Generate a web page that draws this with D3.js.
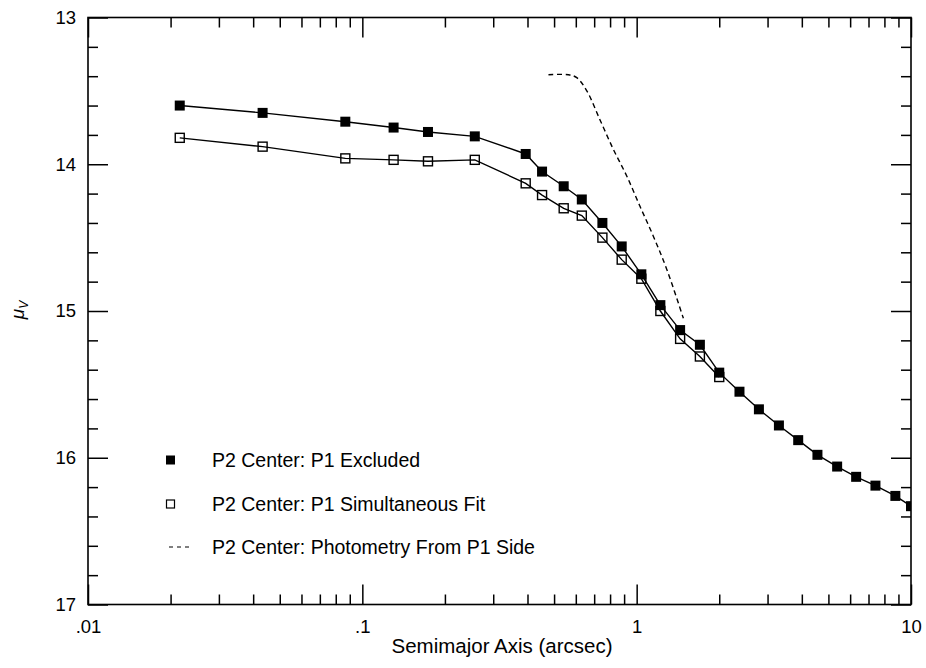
<!DOCTYPE html>
<html>
<head>
<meta charset="utf-8">
<script src="https://cdn.jsdelivr.net/npm/d3@7"></script>
<style>
  html, body { margin: 0; padding: 0; background: #fff; }
  svg { display: block; }
  text { font-family: "Liberation Sans", Arial, Helvetica, sans-serif; fill: #000; }
</style>
</head>
<body>
<svg id="chart" width="926" height="668"></svg>
<script>
// ---- data ----
const radius = [0.0216, 0.0433, 0.0867, 0.130, 0.1735, 0.257, 0.394, 0.452, 0.542, 0.631, 0.750, 0.882, 1.04, 1.22, 1.44, 1.70, 2.00, 2.37, 2.79, 3.30, 3.88, 4.56, 5.38, 6.31, 7.42, 8.77, 10.0];
const muExcluded = [13.60, 13.65, 13.71, 13.75, 13.78, 13.81, 13.93, 14.05, 14.15, 14.24, 14.40, 14.56, 14.75, 14.96, 15.13, 15.23, 15.42, 15.55, 15.67, 15.78, 15.88, 15.98, 16.06, 16.13, 16.19, 16.26, 16.33];
const radiusSim = [0.0216, 0.0433, 0.0867, 0.130, 0.1735, 0.257, 0.394, 0.452, 0.542, 0.631, 0.750, 0.882, 1.04, 1.22, 1.44, 1.70, 2.00];
const muSimultaneous = [13.82, 13.88, 13.96, 13.97, 13.98, 13.97, 14.13, 14.21, 14.30, 14.35, 14.50, 14.65, 14.78, 15.00, 15.19, 15.31, 15.45];
const radiusP1Side = [0.477, 0.564, 0.605, 0.658, 0.736, 0.823, 0.920, 1.03, 1.15, 1.29, 1.48];
const muP1Side = [13.39, 13.39, 13.41, 13.50, 13.70, 13.90, 14.08, 14.29, 14.49, 14.72, 15.05];
const xTickValues = [0.01, 0.1, 1, 10];
const xTickLabels = [".01", ".1", "1", "10"];
const yTickValues = [13, 14, 15, 16, 17];
const legendLabels = ["P2 Center: P1 Excluded", "P2 Center: P1 Simultaneous Fit", "P2 Center: Photometry From P1 Side"];
const xTitle = "Semimajor Axis (arcsec)";

// ---- layout ----
const svg = d3.select("#chart");
const L = 88, R = 911, T = 17.5, B = 604.5;
const x = d3.scaleLog().domain([0.01, 10]).range([L, R]);
const y = d3.scaleLinear().domain([13, 17]).range([T, B]);

// minor ticks
const xMinor = [];
for (let d = 0.01; d < 10; d *= 10) for (let k = 2; k <= 9; k++) xMinor.push(d * k);
const yMinor = [];
for (let v = 13; v < 17; v += 1) for (let k = 1; k <= 4; k++) yMinor.push(v + k * 0.2);

const axisColor = "#000";
const g = svg.append("g");

function addAxis(axisGen, transform) {
  const a = g.append("g").attr("transform", transform).call(axisGen);
  a.select(".domain").remove();
  a.selectAll("line").attr("stroke", axisColor).attr("stroke-width", 1.5);
  return a;
}
// bottom
addAxis(d3.axisBottom(x).tickValues(xMinor).tickSize(-10).tickFormat(""), `translate(0,${B})`);
const bx = addAxis(d3.axisBottom(x).tickValues(xTickValues).tickSize(-20).tickPadding(15)
  .tickFormat((d, i) => xTickLabels[i]), `translate(0,${B})`);
bx.selectAll("text").attr("font-size", 18.5).attr("fill", "#000");
// top
addAxis(d3.axisTop(x).tickValues(xMinor).tickSize(-10).tickFormat(""), `translate(0,${T})`);
addAxis(d3.axisTop(x).tickValues(xTickValues).tickSize(-20).tickFormat(""), `translate(0,${T})`);
// left
addAxis(d3.axisLeft(y).tickValues(yMinor).tickSize(-10).tickFormat(""), `translate(${L},0)`);
const ly = addAxis(d3.axisLeft(y).tickValues(yTickValues).tickSize(-20).tickPadding(12)
  .tickFormat(d3.format("d")), `translate(${L},0)`);
ly.selectAll("text").attr("font-size", 18.5).attr("fill", "#000");
// right
addAxis(d3.axisRight(y).tickValues(yMinor).tickSize(-10).tickFormat(""), `translate(${R},0)`);
addAxis(d3.axisRight(y).tickValues(yTickValues).tickSize(-20).tickFormat(""), `translate(${R},0)`);

// frame
g.append("rect").attr("x", L).attr("y", T).attr("width", R - L).attr("height", B - T)
  .attr("fill", "none").attr("stroke", axisColor).attr("stroke-width", 1.6);

// clip
svg.append("defs").append("clipPath").attr("id", "plotclip")
  .append("rect").attr("x", L).attr("y", T).attr("width", R - L).attr("height", B - T);
const plot = svg.append("g").attr("clip-path", "url(#plotclip)");

const line = d3.line().x(d => x(d[0])).y(d => y(d[1]));
const simData = radiusSim.map((r, i) => [r, muSimultaneous[i]]);
const exData = radius.map((r, i) => [r, muExcluded[i]]);
const p1Data = radiusP1Side.map((r, i) => [r, muP1Side[i]]);

// dashed
plot.append("path").datum(p1Data)
  .attr("d", d3.line().x(d => x(d[0])).y(d => y(d[1])).curve(d3.curveCatmullRom.alpha(0.5)))
  .attr("fill", "none").attr("stroke", "#000").attr("stroke-width", 1.4)
  .attr("stroke-dasharray", "5,3.5");

// simultaneous (open)
plot.append("path").datum(simData).attr("d", line)
  .attr("fill", "none").attr("stroke", "#000").attr("stroke-width", 1.4);
const ms = 10;
plot.selectAll(".open").data(simData).join("rect")
  .attr("x", d => x(d[0]) - ms / 2 + 0.5).attr("y", d => y(d[1]) - ms / 2 + 0.5)
  .attr("width", ms - 1).attr("height", ms - 1)
  .attr("fill", "#fff").attr("fill-opacity", 0).attr("stroke", "#000").attr("stroke-width", 1.4);

// excluded (filled)
plot.append("path").datum(exData).attr("d", line)
  .attr("fill", "none").attr("stroke", "#000").attr("stroke-width", 1.4);
plot.selectAll(".filled").data(exData).join("rect")
  .attr("x", d => x(d[0]) - ms / 2).attr("y", d => y(d[1]) - ms / 2)
  .attr("width", ms).attr("height", ms).attr("fill", "#000");

// legend
const legY = [460, 504, 547];
const lg = svg.append("g");
lg.append("rect").attr("x", 166).attr("y", legY[0] - 4.5).attr("width", 9).attr("height", 9).attr("fill", "#000");
lg.append("rect").attr("x", 166.5).attr("y", legY[1] - 4).attr("width", 8).attr("height", 8)
  .attr("fill", "none").attr("stroke", "#000").attr("stroke-width", 1.2);
lg.append("line").attr("x1", 169).attr("x2", 193).attr("y1", legY[2]).attr("y2", legY[2])
  .attr("stroke", "#000").attr("stroke-width", 1.2).attr("stroke-dasharray", "4,4");
legendLabels.forEach((t, i) => {
  lg.append("text").attr("x", 212).attr("y", legY[i] + 7).attr("font-size", 19.5).text(t);
});

// axis titles
svg.append("text").attr("x", 502).attr("y", 653).attr("text-anchor", "middle")
  .attr("font-size", 20.5).text(xTitle);
const yl = svg.append("text").attr("transform", "translate(24,310) rotate(-90)")
  .attr("text-anchor", "middle").attr("font-size", 19).attr("font-style", "italic");
yl.append("tspan").text("μ");
yl.append("tspan").attr("font-size", 12).attr("dy", 4).attr("font-style", "italic").text("V");
</script>
</body>
</html>
